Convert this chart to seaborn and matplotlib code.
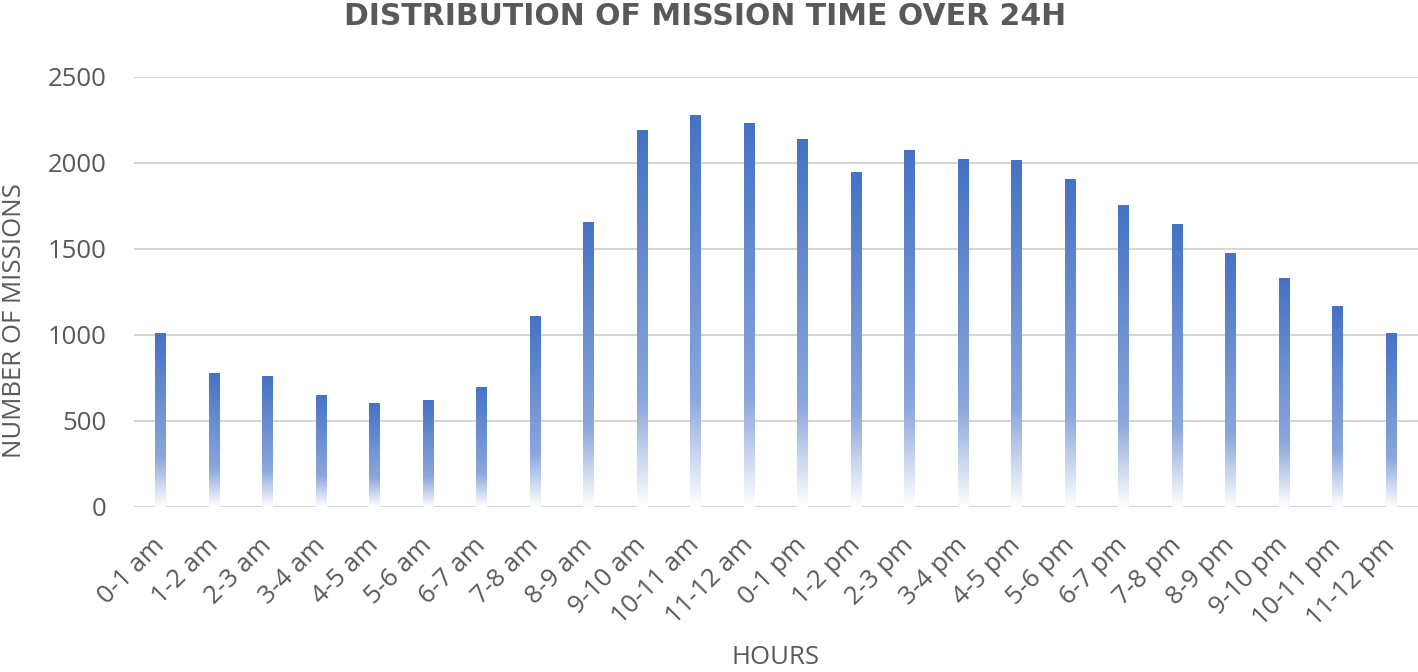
import numpy as np
import pandas as pd
import matplotlib
matplotlib.use("Agg")
import matplotlib.pyplot as plt
import seaborn as sns
from matplotlib.colors import LinearSegmentedColormap

# data
hours = ["0-1 am", "1-2 am", "2-3 am", "3-4 am", "4-5 am", "5-6 am",
         "6-7 am", "7-8 am", "8-9 am", "9-10 am", "10-11 am", "11-12 am",
         "0-1 pm", "1-2 pm", "2-3 pm", "3-4 pm", "4-5 pm", "5-6 pm",
         "6-7 pm", "7-8 pm", "8-9 pm", "9-10 pm", "10-11 pm", "11-12 pm"]
missions = [1010, 780, 762, 652, 605, 620, 698, 1108, 1658, 2190, 2277, 2235,
            2142, 1948, 2078, 2022, 2016, 1909, 1754, 1648, 1479, 1330, 1167, 1010]
y_ticks = [0, 500, 1000, 1500, 2000, 2500]

sns.set_theme(style="white")
plt.rcParams["font.family"] = ["Open Sans", "DejaVu Sans"]

TEXT = "#595959"
df = pd.DataFrame({"Hours": hours, "Missions": missions})

fig = plt.figure(figsize=(14.18, 6.72), dpi=100)
ax = fig.add_axes([134 / 1418, 1 - 507 / 672, 1 - 134 / 1418, 430 / 672])

sns.barplot(data=df, x="Hours", y="Missions", width=0.2, color="#4472C4", ax=ax)

# gradient fill: white at the base -> blue at the top
fade = LinearSegmentedColormap.from_list(
    "fade", [(0.0, "#ffffff"), (0.28, "#8ba7dc"), (1.0, "#4472C4")])
grad = np.linspace(0, 1, 256).reshape(-1, 1)
for bar in ax.patches:
    x0, y0 = bar.get_x(), bar.get_y()
    w, h = bar.get_width(), bar.get_height()
    img = ax.imshow(grad, cmap=fade, aspect="auto", origin="lower",
                    extent=[x0, x0 + w, y0, y0 + h], zorder=2)
    img.set_clip_path(bar)
    bar.set_facecolor("none")
    bar.set_edgecolor("none")

ax.set_xlim(-0.5, len(hours) - 0.5)
ax.set_ylim(0, 2500)
ax.set_yticks(y_ticks)
ax.yaxis.grid(True, color="#d6d6d6", linewidth=1.5)
ax.set_axisbelow(True)
sns.despine(ax=ax, left=True, bottom=True)

ax.tick_params(axis="y", length=0, pad=19.5, labelsize=18.5, labelcolor=TEXT)
ax.tick_params(axis="x", length=0, pad=25, labelsize=18.5, labelcolor=TEXT)
for lbl in ax.get_xticklabels():
    lbl.set_rotation(45)
    lbl.set_ha("right")
    lbl.set_va("center")
    lbl.set_rotation_mode("anchor")

ax.set_ylabel("NUMBER OF MISSIONS", fontsize=18.5, color=TEXT)
ax.yaxis.set_label_coords(-0.083, 0.4326)
ax.set_xlabel("HOURS", fontsize=18.5, color=TEXT, va="top")
ax.xaxis.set_label_coords(0.5, -0.322)

fig.text(0.4975, 1 - 2 / 672, "DISTRIBUTION OF MISSION TIME OVER 24H",
         ha="center", va="top", fontsize=21.5, fontweight="bold",
         color=TEXT, family=["DejaVu Sans"])

fig.savefig("out.png", dpi=100)
